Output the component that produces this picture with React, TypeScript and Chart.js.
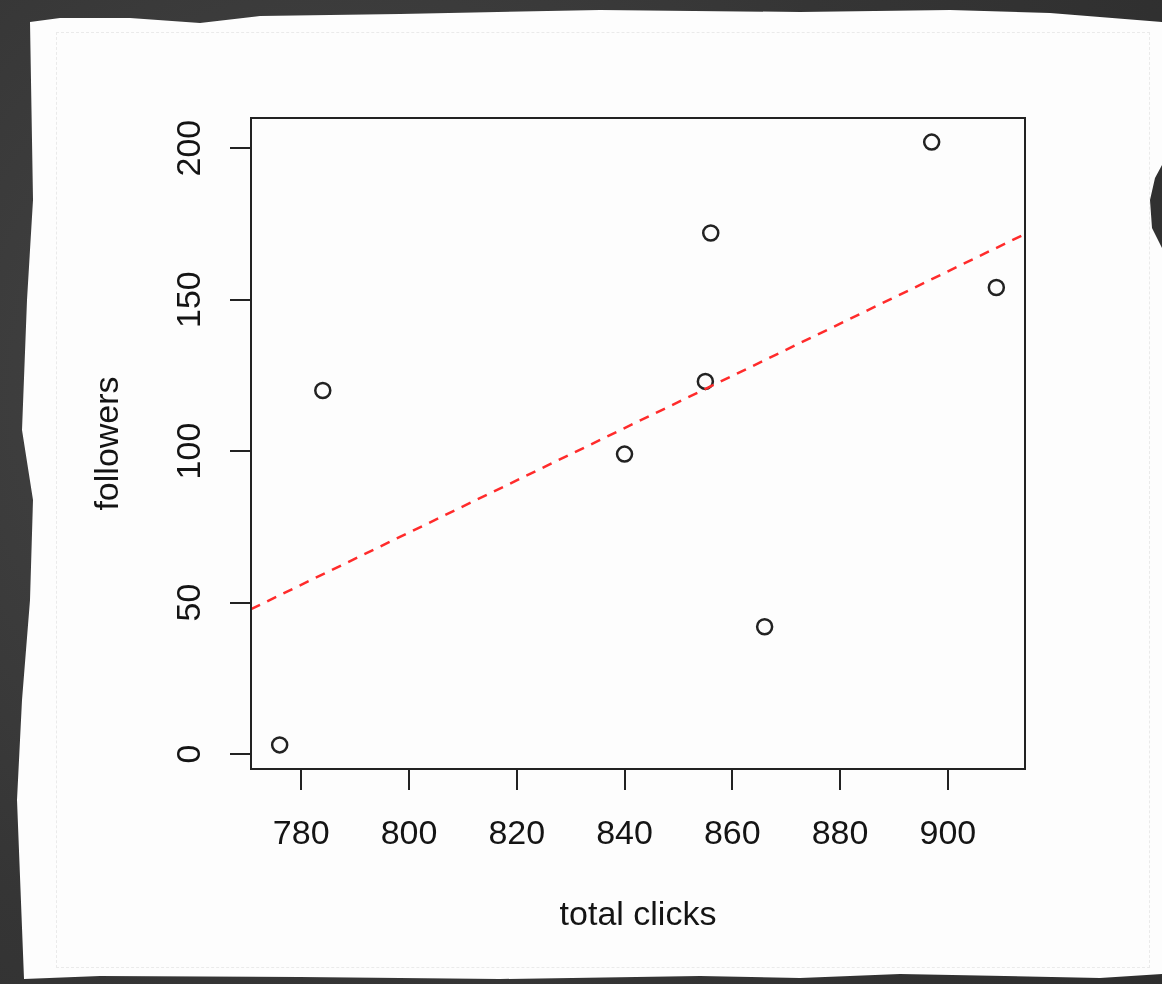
import React, { useEffect, useRef } from "react";
import { Chart, registerables } from "chart.js";

Chart.register(...registerables);

// ---- data ----
const totalClicks = [776, 784, 840, 855, 856, 866, 897, 909];
const followers = [3, 120, 99, 123, 172, 42, 202, 154];
const xTicks = [780, 800, 820, 840, 860, 880, 900];
const yTicks = [0, 50, 100, 150, 200];
const xLabel = "total clicks";
const yLabel = "followers";

// R-style axis range: data range extended by 4% on each side
const rangeOf = (v: number[]) => {
  const lo = Math.min(...v);
  const hi = Math.max(...v);
  const pad = (hi - lo) * 0.04;
  return [lo - pad, hi + pad];
};
const [xMin, xMax] = rangeOf(totalClicks);
const [yMin, yMax] = rangeOf(followers);

// least-squares fit (abline(lm(followers ~ total clicks)))
const n = totalClicks.length;
const mx = totalClicks.reduce((a, b) => a + b, 0) / n;
const my = followers.reduce((a, b) => a + b, 0) / n;
let sxy = 0;
let sxx = 0;
for (let i = 0; i < n; i++) {
  sxy += (totalClicks[i] - mx) * (followers[i] - my);
  sxx += (totalClicks[i] - mx) ** 2;
}
const slope = sxy / sxx;
const intercept = my - slope * mx;

const FONT = "'Liberation Sans', Arial, Helvetica, sans-serif";
const FSIZE = 34;
const TEXT = "#141414";
const INK = "#222222";

const paperPoly: [number, number][] = [
  [30, 22], [60, 18], [130, 18], [200, 23], [260, 16], [400, 14], [600, 10],
  [800, 12], [950, 10], [1050, 13], [1162, 22],
  [1162, 165], [1155, 178], [1150, 200], [1152, 228], [1162, 248],
  [1162, 974], [1100, 978], [900, 974], [800, 978], [700, 976], [500, 979],
  [300, 977], [100, 976], [24, 979],
  [17, 800], [22, 700], [30, 600], [33, 500], [22, 430], [27, 300], [33, 200],
];

const boxPlugin = {
  id: "rbox",
  afterDatasetsDraw(chart: any) {
    const { ctx, chartArea: a } = chart;
    ctx.save();
    ctx.strokeStyle = INK;
    ctx.lineWidth = 2;
    ctx.strokeRect(a.left, a.top, a.right - a.left, a.bottom - a.top);
    ctx.restore();
  },
};

export default function App() {
  const ref = useRef<HTMLCanvasElement>(null);

  useEffect(() => {
    document.body.style.margin = "0";
    const canvas = ref.current;
    if (!canvas) return;
    const points = totalClicks.map((x, i) => ({ x, y: followers[i] }));
    const fit = [
      { x: xMin, y: intercept + slope * xMin },
      { x: xMax, y: intercept + slope * xMax },
    ];
    const chart = new Chart(canvas, {
      type: "scatter",
      data: {
        datasets: [
          {
            type: "scatter",
            data: points,
            pointRadius: 7.5,
            pointHoverRadius: 7.5,
            pointBorderWidth: 2.5,
            borderColor: INK,
            backgroundColor: "rgba(0,0,0,0)",
            order: 2,
          } as any,
          {
            type: "line",
            data: fit,
            borderColor: "#ff2b2b",
            borderWidth: 2.5,
            borderDash: [10, 8],
            pointRadius: 0,
            fill: false,
            order: 1,
          } as any,
        ],
      },
      options: {
        responsive: false,
        animation: false,
        devicePixelRatio: 1,
        layout: { padding: { left: 0, top: 118, right: 137, bottom: 0 } },
        plugins: { legend: { display: false }, tooltip: { enabled: false } },
        scales: {
          x: {
            type: "linear",
            position: "bottom",
            min: xMin,
            max: xMax,
            afterBuildTicks: (s: any) => {
              s.ticks = xTicks.map((v) => ({ value: v }));
            },
            afterFit: (s: any) => {
              s.height = 215;
            },
            ticks: {
              font: { family: FONT, size: FSIZE },
              color: TEXT,
              padding: 24,
              maxRotation: 0,
              autoSkip: false,
            },
            grid: {
              drawOnChartArea: false,
              drawTicks: true,
              tickLength: 21,
              color: INK,
              lineWidth: 2,
            },
            border: { display: false },
            title: {
              display: true,
              text: xLabel,
              font: { family: FONT, size: FSIZE },
              color: TEXT,
              padding: { top: 0, bottom: 48 },
            },
          },
          y: {
            type: "linear",
            position: "left",
            min: yMin,
            max: yMax,
            afterBuildTicks: (s: any) => {
              s.ticks = yTicks.map((v) => ({ value: v }));
            },
            afterFit: (s: any) => {
              s.width = 251;
            },
            ticks: {
              font: { family: FONT, size: FSIZE },
              color: TEXT,
              minRotation: 90,
              maxRotation: 90,
              crossAlign: "center",
              padding: 11,
              autoSkip: false,
            },
            grid: {
              drawOnChartArea: false,
              drawTicks: true,
              tickLength: 21,
              color: INK,
              lineWidth: 2,
            },
            border: { display: false },
            title: {
              display: true,
              text: yLabel,
              font: { family: FONT, size: FSIZE },
              color: TEXT,
              padding: { top: 88, bottom: 0 },
            },
          },
        },
      } as any,
      plugins: [boxPlugin],
    });
    return () => chart.destroy();
  }, []);

  const clip = `polygon(${paperPoly.map(([x, y]) => `${x}px ${y}px`).join(", ")})`;

  return (
    <div
      style={{
        position: "relative",
        width: 1162,
        height: 984,
        overflow: "hidden",
        background: "radial-gradient(circle at 30% 40%, #474747 0%, #353535 60%, #2e2e2e 100%)",
      }}
    >
      <div
        style={{
          position: "absolute",
          inset: 0,
          background: "#fdfdfd",
          clipPath: clip,
        }}
      />
      <div
        style={{
          position: "absolute",
          left: 56,
          top: 32,
          width: 1094,
          height: 936,
          border: "1px dashed rgba(0,0,0,0.07)",
          boxSizing: "border-box",
        }}
      />
      <canvas
        ref={ref}
        width={1162}
        height={984}
        style={{ position: "absolute", left: 0, top: 0 }}
      />
    </div>
  );
}
